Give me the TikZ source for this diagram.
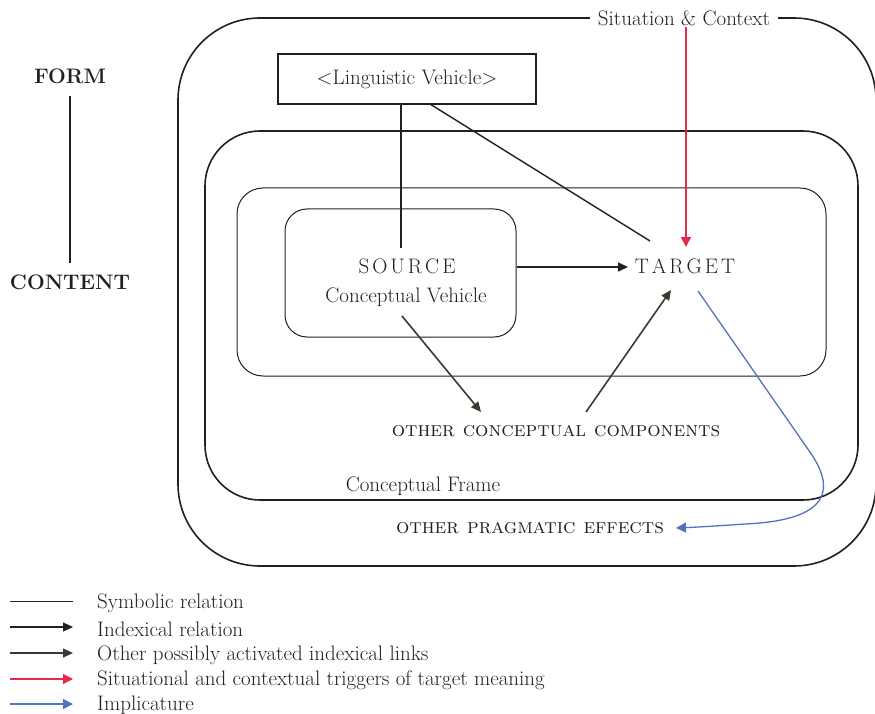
\documentclass[tikz,border=0pt]{standalone}
\usepackage{fontspec}
\usetikzlibrary{arrows.meta}
\definecolor{trigred}{HTML}{E8284A}
\definecolor{implblue}{HTML}{5670C0}
\definecolor{linkolive}{HTML}{3A3A2E}
\definecolor{ink}{HTML}{231F20}
% letter-spaced capitals
\newcommand{\spacedcaps}[1]{\def\lsgap{\kern3pt}\lsloop#1\relax}
\def\lsloop#1#2{#1\ifx\relax#2\else\lsgap\expandafter\lsloop\expandafter#2\fi}
\begin{document}
\begin{tikzpicture}[x=1pt,y=-1pt,
  txt/.style={font=\fontsize{21}{24}\selectfont, text=ink, inner sep=2pt},
  sctxt/.style={font=\fontsize{21}{24}\selectfont\scshape, text=ink, inner sep=2pt},
  boldcap/.style={font=\fontsize{21}{24}\selectfont\bfseries, text=ink},
  gaplabel/.style={txt, fill=white, inner xsep=8pt},
  frame/.style={draw=ink, line width=1.6pt},
  thin/.style={draw=ink, line width=1pt},
  symb/.style={draw=ink, line width=1.4pt},
  idx/.style={draw=ink, line width=1.6pt, -{Triangle[length=10pt,width=9pt]}},
  oth/.style={draw=linkolive, line width=1.6pt, -{Triangle[length=10pt,width=9pt]}},
  trig/.style={draw=trigred, line width=1.6pt, -{Triangle[length=10pt,width=10pt]}},
  impl/.style={draw=implblue, line width=1.3pt, -{Triangle[length=10pt,width=10pt]}},
]
\useasboundingbox (0,0) rectangle (875,714);

% nested frames
\draw[frame, rounded corners=82pt] (178,18) rectangle (876,566);
\draw[frame, rounded corners=55pt] (205,131) rectangle (858,500);
\draw[thin, rounded corners=26pt] (237,188) rectangle (826,376);
\node[draw=ink, line width=1pt, rounded corners=22pt, minimum width=231pt, minimum height=128pt] (srcbox) at (400.5,273) {};

% frame titles breaking the borders
\node[gaplabel] (situation) at (684,18) {Situation \& Context};
\node[gaplabel] (cframe) at (423,486) {Conceptual Frame};

% linguistic vehicle
\node[draw=ink, line width=1.6pt, txt, minimum width=258pt, minimum height=50pt] (ling) at (407,79) {<Linguistic Vehicle>};

% concepts
\node[txt] (source) at (407,266) {\spacedcaps{SOURCE}};
\node[txt] (cveh) at (406,297) {Conceptual Vehicle};
\node[txt] (target) at (685,266) {\spacedcaps{TARGET}};
\node[sctxt] (occ) at (556,431) {other conceptual components};
\node[sctxt] (ope) at (530,528) {other pragmatic effects};

% form / content axis
\node[boldcap] (form) at (70,76) {FORM};
\node[boldcap] (content) at (70,282) {CONTENT};
\draw[symb] (form.south |- 0,96) -- (content.north |- 0,263);

% connector end points
\coordinate (lingA) at (401,104);
\coordinate (lingB) at (430,104);
\coordinate (srcTop) at (401,248);
\coordinate (tgtTL) at (650,241);
\coordinate (srcR) at (517,267);
\coordinate (tgtL) at (628,267);
\coordinate (redTop) at (686,27);
\coordinate (tgtTop) at (686,247);
\coordinate (srcBot) at (402,316);
\coordinate (occL) at (481,412);
\coordinate (occR) at (586,412);
\coordinate (tgtB) at (671,290);
\coordinate (tgtBR) at (698,291);
\coordinate (opeR) at (676,528);

% relations
\draw[symb] (lingA) -- (srcTop);
\draw[symb] (lingB) -- (tgtTL);
\draw[idx] (srcR) -- (tgtL);
\draw[trig] (redTop) -- (tgtTop);
\draw[oth] (srcBot) -- (occL);
\draw[oth] (occR) -- (tgtB);
\draw[impl] (tgtBR) -- (812,455) .. controls (832,486) and (835,520) .. (745,524) .. controls (715,526) and (700,527) .. (opeR);

% legend
\foreach \yy/\name in {601/la,627/lb,653/lc,679/ld,704/le}{
  \coordinate (\name0) at (10,\yy);
  \coordinate (\name1) at (73,\yy);
}
\draw[symb, line width=1pt] (la0) -- (la1);
\draw[idx, line width=1.2pt] (lb0) -- (lb1);
\draw[oth, line width=1.2pt] (lc0) -- (lc1);
\draw[trig, line width=1.3pt] (ld0) -- (ld1);
\draw[impl] (le0) -- (le1);
\node[txt, anchor=west] (ta) at (95,603) {Symbolic relation};
\node[txt, anchor=west] (tb) at (95,629) {Indexical relation};
\node[txt, anchor=west] (tc) at (95,655) {Other possibly activated indexical links};
\node[txt, anchor=west] (td) at (95,680) {Situational and contextual triggers of target meaning};
\node[txt, anchor=west] (te) at (95,705) {Implicature};
\end{tikzpicture}
\end{document}
